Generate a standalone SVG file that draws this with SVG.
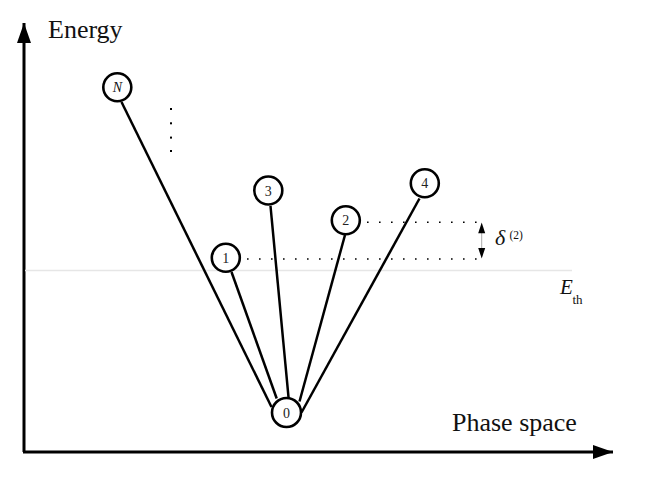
<svg xmlns="http://www.w3.org/2000/svg" width="664" height="498" viewBox="0 0 664 498">
<defs>
<marker id="ah" viewBox="0 0 20 14" refX="20" refY="7" markerWidth="20" markerHeight="14" markerUnits="userSpaceOnUse" orient="auto"><path d="M0,0 L20,7 L0,14 Z" fill="#000"/></marker>
<style>
.ax{stroke:#000;stroke-width:3;fill:none}
.ln{stroke:#000;stroke-width:2.5;fill:none}
.dot{stroke:#000;stroke-width:1.6;stroke-dasharray:1.6 10.4;fill:none}
.nd{fill:#fff;stroke:#000;stroke-width:2.6}
.lb{font-family:"Liberation Serif","DejaVu Serif",serif;font-size:14px;text-anchor:middle;fill:#222}
.big{font-family:"Liberation Serif","DejaVu Serif",serif;font-size:26px;fill:#111}
.it{font-family:"Liberation Serif","DejaVu Serif",serif;font-style:italic;fill:#111}
.sm{font-family:"Liberation Serif","DejaVu Serif",serif;fill:#111}
</style>
</defs>
<rect width="664" height="498" fill="#fff"/>
<g id="axes">
<line x1="24" y1="452" x2="24" y2="23" class="ax" marker-end="url(#ah)"/>
<line x1="23" y1="452" x2="613" y2="452" class="ax" marker-end="url(#ah)"/>
<text x="48" y="38" class="big">Energy</text>
<text x="452" y="431" class="big">Phase space</text>
</g>
<g id="threshold">
<line x1="25" y1="270.5" x2="572" y2="270.5" stroke="#e6e6e6" stroke-width="1.5"/>
<text x="560" y="293.5" class="it" font-size="21">E</text>
<text x="572.5" y="303.5" class="sm" font-size="13">th</text>
</g>
<g id="connectors">
<line x1="121.5" y1="102" x2="271.5" y2="407" class="ln"/>
<line x1="231.5" y1="272" x2="276.7" y2="398.5" class="ln"/>
<line x1="270.5" y1="206" x2="288.5" y2="397" class="ln"/>
<line x1="345" y1="235" x2="299.5" y2="401.5" class="ln"/>
<line x1="419.5" y1="198.5" x2="301.5" y2="412.5" class="ln"/>
<line x1="247" y1="259" x2="478" y2="259" class="dot"/>
<line x1="367" y1="222.3" x2="478" y2="222.3" class="dot"/>
<g id="delta">
<line x1="481.7" y1="233" x2="481.7" y2="248" stroke="#aaa" stroke-width="1"/>
<path d="M481.7,222.5 L485.2,233.3 L478.2,233.3 Z" fill="#000"/>
<path d="M481.7,258.5 L485.2,248 L478.2,248 Z" fill="#000"/>
<text x="495" y="245" class="it" font-size="22">δ</text>
<text x="509.5" y="238.5" class="sm" font-size="11.5">(2)</text>
</g>
<g id="vdots" fill="#000">
<rect x="170" y="108" width="2" height="2"/>
<rect x="170" y="122.3" width="2" height="2"/>
<rect x="170" y="136.6" width="2" height="2"/>
<rect x="170" y="150" width="2" height="2"/>
</g>
</g>
<g id="nodeN"><circle cx="117.3" cy="87.3" r="14" class="nd"/><text x="117.3" y="92" class="lb it" font-size="13">N</text></g>
<g id="node1"><circle cx="225.8" cy="257.8" r="14" class="nd"/><text x="225.8" y="262.8" class="lb">1</text></g>
<g id="node2"><circle cx="345.8" cy="220.3" r="14" class="nd"/><text x="345.8" y="225.3" class="lb">2</text></g>
<g id="node3"><circle cx="268.3" cy="190.5" r="14" class="nd"/><text x="268.3" y="195.5" class="lb">3</text></g>
<g id="node4"><circle cx="424.8" cy="183.3" r="14" class="nd"/><text x="424.8" y="188.3" class="lb">4</text></g>
<g id="node0"><circle cx="286.5" cy="412.5" r="14.5" class="nd"/><text x="286.5" y="417.5" class="lb">0</text></g>
</svg>
